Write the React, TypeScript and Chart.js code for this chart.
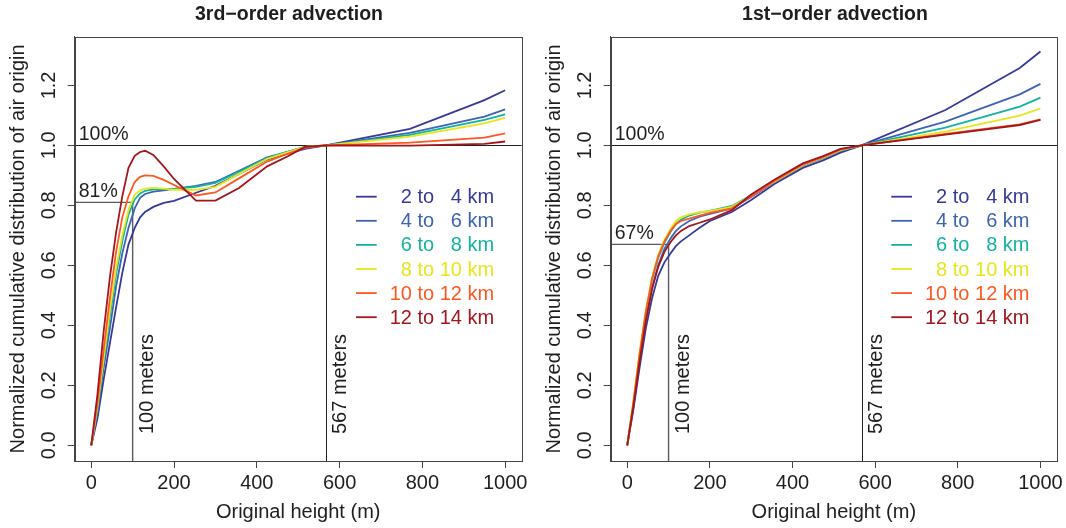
import { useEffect, useRef } from "react";
import { Chart, registerables } from "chart.js";

Chart.register(...registerables);

// Heights (m) at which the cumulative distributions are sampled
const heights = [0, 15, 30, 45, 60, 75, 90, 105, 118, 130, 150, 175, 200, 253, 300, 357, 425, 474, 516, 567, 770, 950, 1000];

const bandLabels = ["2 to   4 km", "4 to   6 km", "6 to   8 km", "8 to 10 km", "10 to 12 km", "12 to 14 km"];
const bandColors = ["#353A9A", "#3D63B3", "#12B3A0", "#E6E61A", "#FF5722", "#A3161C"];

// 3rd-order advection scheme
const third2to4 = [0, 0.09, 0.22, 0.34, 0.46, 0.575, 0.67, 0.725, 0.76, 0.778, 0.795, 0.808, 0.815, 0.842, 0.865, 0.905, 0.953, 0.972, 0.988, 1.0, 1.055, 1.151, 1.184];
const third4to6 = [0, 0.11, 0.26, 0.39, 0.53, 0.64, 0.725, 0.79, 0.825, 0.838, 0.846, 0.85, 0.855, 0.865, 0.878, 0.915, 0.96, 0.978, 0.995, 1.0, 1.042, 1.096, 1.12];
const third6to8 = [0, 0.12, 0.28, 0.43, 0.57, 0.68, 0.77, 0.82, 0.84, 0.848, 0.853, 0.855, 0.855, 0.862, 0.875, 0.912, 0.958, 0.978, 0.995, 1.0, 1.035, 1.085, 1.103];
const third8to10 = [0, 0.13, 0.29, 0.45, 0.59, 0.7, 0.785, 0.835, 0.85, 0.856, 0.858, 0.856, 0.852, 0.852, 0.862, 0.905, 0.955, 0.977, 0.995, 1.0, 1.029, 1.073, 1.092];
const third10to12 = [0, 0.14, 0.32, 0.49, 0.645, 0.76, 0.83, 0.878, 0.895, 0.9, 0.898, 0.885, 0.868, 0.833, 0.843, 0.89, 0.946, 0.972, 0.992, 1.0, 1.009, 1.026, 1.04];
const third12to14 = [0, 0.17, 0.38, 0.56, 0.71, 0.83, 0.925, 0.965, 0.978, 0.982, 0.968, 0.93, 0.888, 0.816, 0.816, 0.858, 0.93, 0.963, 0.995, 1.0, 0.999, 1.005, 1.013];

// 1st-order advection scheme
const first2to4 = [0, 0.12, 0.26, 0.39, 0.49, 0.565, 0.61, 0.64, 0.665, 0.68, 0.7, 0.725, 0.748, 0.778, 0.818, 0.872, 0.925, 0.95, 0.976, 1.0, 1.118, 1.258, 1.313];
const first4to6 = [0, 0.135, 0.285, 0.42, 0.525, 0.6, 0.655, 0.69, 0.715, 0.73, 0.748, 0.762, 0.772, 0.79, 0.828, 0.878, 0.932, 0.957, 0.982, 1.0, 1.079, 1.17, 1.205];
const first6to8 = [0, 0.14, 0.3, 0.44, 0.55, 0.625, 0.675, 0.712, 0.738, 0.752, 0.766, 0.776, 0.782, 0.798, 0.834, 0.882, 0.934, 0.958, 0.983, 1.0, 1.059, 1.129, 1.159];
const first8to10 = [0, 0.15, 0.31, 0.45, 0.56, 0.635, 0.685, 0.722, 0.748, 0.76, 0.77, 0.777, 0.781, 0.795, 0.832, 0.88, 0.934, 0.959, 0.984, 1.0, 1.046, 1.099, 1.123];
const first10to12 = [0, 0.145, 0.305, 0.445, 0.555, 0.63, 0.68, 0.715, 0.738, 0.748, 0.756, 0.766, 0.775, 0.79, 0.83, 0.882, 0.936, 0.961, 0.986, 1.0, 1.038, 1.07, 1.087];
const first12to14 = [0, 0.13, 0.28, 0.415, 0.52, 0.595, 0.645, 0.678, 0.7, 0.715, 0.731, 0.742, 0.753, 0.784, 0.836, 0.886, 0.94, 0.964, 0.988, 1.0, 1.036, 1.068, 1.085];

const xTicks = [0, 200, 400, 600, 800, 1000];
const xTickLabels = ["0", "200", "400", "600", "800", "1000"];
const yTicks = [0, 0.2, 0.4, 0.6, 0.8, 1.0, 1.2];
const yTickLabels = ["0.0", "0.2", "0.4", "0.6", "0.8", "1.0", "1.2"];

const refHeight = 567;
const nearHeight = 100;

const FONT = "'Liberation Sans', Arial, Helvetica, sans-serif";
const INK = "#1e1e1e";

Chart.defaults.font.family = FONT;

type PanelProps = {
  left: number;
  width: number;
  padRight: number;
  title: string;
  titleX: number;
  series: number[][];
  pct: number;
  pctLabel: string;
};

function Panel({ left, width, padRight, title, titleX, series, pct, pctLabel }: PanelProps) {
  const ref = useRef<HTMLCanvasElement>(null);

  useEffect(() => {
    const decor = {
      id: "decor",
      beforeDatasetsDraw(chart: any) {
        const { ctx, chartArea: a, scales } = chart;
        const xs = scales.x;
        const ys = scales.y;
        ctx.save();
        // 100% line and the 567 m marker
        const y1 = Math.round(ys.getPixelForValue(1)) + 0.5;
        const x567 = Math.round(xs.getPixelForValue(refHeight)) + 0.5;
        ctx.strokeStyle = "#222";
        ctx.lineWidth = 1;
        ctx.beginPath();
        ctx.moveTo(a.left, y1);
        ctx.lineTo(a.right, y1);
        ctx.moveTo(x567, y1);
        ctx.lineTo(x567, a.bottom);
        ctx.stroke();
        // value reached at 100 m
        const yp = ys.getPixelForValue(pct);
        const x100 = xs.getPixelForValue(nearHeight);
        ctx.strokeStyle = "#5a5a5a";
        ctx.lineWidth = 1.4;
        ctx.beginPath();
        ctx.moveTo(a.left, yp);
        ctx.lineTo(x100, yp);
        ctx.lineTo(x100, a.bottom);
        ctx.stroke();
        ctx.restore();
      },
      afterDraw(chart: any) {
        const { ctx, chartArea: a, scales } = chart;
        const xs = scales.x;
        const ys = scales.y;
        ctx.save();
        // plot frame
        ctx.strokeStyle = "#444";
        ctx.lineWidth = 1;
        ctx.strokeRect(Math.round(a.left) + 0.5, Math.round(a.top) + 0.5, Math.round(a.right - a.left), Math.round(a.bottom - a.top));

        // panel title
        ctx.fillStyle = INK;
        ctx.font = `bold 19.5px ${FONT}`;
        ctx.textAlign = "center";
        ctx.textBaseline = "alphabetic";
        ctx.fillText(title, titleX, 20);

        // vertical y tick labels
        ctx.font = `20px ${FONT}`;
        yTicks.forEach((v, i) => {
          const py = ys.getPixelForValue(v);
          ctx.save();
          ctx.translate(a.left - 20, py);
          ctx.rotate(-Math.PI / 2);
          ctx.textAlign = "center";
          ctx.textBaseline = "alphabetic";
          ctx.fillText(yTickLabels[i], 0, 0);
          ctx.restore();
        });

        // percentage labels
        ctx.textAlign = "left";
        ctx.textBaseline = "alphabetic";
        ctx.font = `19.5px ${FONT}`;
        ctx.fillText("100%", a.left + 4, ys.getPixelForValue(1) - 5);
        ctx.fillText(pctLabel, a.left + 4, ys.getPixelForValue(pct) - 5);

        // height markers
        ctx.font = `20px ${FONT}`;
        [nearHeight, refHeight].forEach((h) => {
          const px = xs.getPixelForValue(h);
          ctx.save();
          ctx.translate(px + 20.5, a.bottom - 27);
          ctx.rotate(-Math.PI / 2);
          ctx.fillText(`${h} meters`, 0, 0);
          ctx.restore();
        });

        // legend
        bandLabels.forEach((lab, i) => {
          const ry = a.top + 160 + i * 24.1;
          ctx.strokeStyle = bandColors[i];
          ctx.lineWidth = 1.8;
          ctx.beginPath();
          ctx.moveTo(a.right - 165.7, ry);
          ctx.lineTo(a.right - 145, ry);
          ctx.stroke();
          ctx.fillStyle = bandColors[i];
          ctx.textAlign = "right";
          ctx.textBaseline = "middle";
          ctx.fillText(lab, a.right - 27.5, ry + 1);
        });
        ctx.restore();
      },
    };

    const n = series.length;
    const chart = new Chart(ref.current!, {
      type: "line",
      data: {
        datasets: series.map((vals, i) => ({
          label: bandLabels[i],
          data: heights.map((h, k) => ({ x: h, y: vals[k] })),
          borderColor: bandColors[i],
          backgroundColor: bandColors[i],
          borderWidth: 1.8,
          pointRadius: 0,
          tension: 0,
          fill: false,
          order: n - 1 - i,
        })),
      },
      options: {
        animation: false,
        responsive: false,
        devicePixelRatio: 1,
        events: [],
        layout: { padding: { top: 36.7, right: padRight, left: 0, bottom: 0 } },
        plugins: { legend: { display: false }, title: { display: false }, tooltip: { enabled: false } },
        scales: {
          x: {
            type: "linear",
            min: -40,
            max: 1040,
            afterBuildTicks: (s: any) => {
              s.ticks = xTicks.map((v) => ({ value: v }));
            },
            afterFit: (s: any) => {
              s.height = 67;
            },
            grid: { drawOnChartArea: false, drawTicks: true, tickLength: 7, color: "#444", lineWidth: 1 },
            border: { display: true, color: "#444", width: 1 },
            ticks: {
              autoSkip: false,
              maxRotation: 0,
              minRotation: 0,
              padding: 3,
              color: INK,
              font: { size: 20, family: FONT },
              callback: (_v: any, i: number) => xTickLabels[i],
            },
            title: {
              display: true,
              text: "Original height (m)",
              color: INK,
              font: { size: 20, family: FONT, lineHeight: 1.2 },
              padding: { top: 0, bottom: 4 },
            },
          },
          y: {
            type: "linear",
            min: -0.0524,
            max: 1.3624,
            afterBuildTicks: (s: any) => {
              s.ticks = yTicks.map((v) => ({ value: v }));
            },
            afterFit: (s: any) => {
              s.width = 74.7;
            },
            grid: { drawOnChartArea: false, drawTicks: true, tickLength: 7, color: "#444", lineWidth: 1 },
            border: { display: true, color: "#444", width: 1 },
            ticks: { display: false },
            title: {
              display: true,
              text: "Normalized cumulative distribution of air origin",
              color: INK,
              font: { size: 20, family: FONT, lineHeight: 1.2 },
              padding: { top: 6.5, bottom: 0 },
            },
          },
        },
      },
      plugins: [decor],
    } as any);
    return () => chart.destroy();
  }, []);

  return (
    <div style={{ position: "absolute", left, top: 0, width, height: 528 }}>
      <canvas ref={ref} width={width} height={528} style={{ width, height: 528, display: "block" }} />
    </div>
  );
}

export default function App() {
  return (
    <div style={{ position: "absolute", left: 0, top: 0, width: 1066, height: 528, background: "#fff" }}>
      <Panel
        left={0}
        width={533}
        padRight={11.3}
        title={"3rd\u2212order advection"}
        titleX={289}
        series={[third2to4, third4to6, third6to8, third8to10, third10to12, third12to14]}
        pct={0.81}
        pctLabel="81%"
      />
      <Panel
        left={536}
        width={530}
        padRight={8.3}
        title={"1st\u2212order advection"}
        titleX={299}
        series={[first2to4, first4to6, first6to8, first8to10, first10to12, first12to14]}
        pct={0.67}
        pctLabel="67%"
      />
    </div>
  );
}
